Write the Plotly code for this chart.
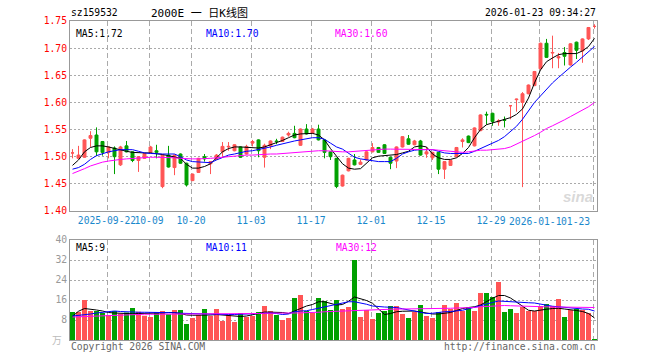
import plotly.graph_objects as go

# ---------------- data ----------------
dates = [
    "2025-09-12", "2025-09-15", "2025-09-16", "2025-09-17", "2025-09-18", "2025-09-19",
    "2025-09-22", "2025-09-23", "2025-09-24", "2025-09-25", "2025-09-26", "2025-09-29",
    "2025-09-30", "2025-10-09", "2025-10-10", "2025-10-13", "2025-10-14", "2025-10-15",
    "2025-10-16", "2025-10-17", "2025-10-20", "2025-10-21", "2025-10-22", "2025-10-23",
    "2025-10-24", "2025-10-27", "2025-10-28", "2025-10-29", "2025-10-30", "2025-10-31",
    "2025-11-03", "2025-11-04", "2025-11-05", "2025-11-06", "2025-11-07", "2025-11-10",
    "2025-11-11", "2025-11-12", "2025-11-13", "2025-11-14", "2025-11-17", "2025-11-18",
    "2025-11-19", "2025-11-20", "2025-11-21", "2025-11-24", "2025-11-25", "2025-11-26",
    "2025-11-27", "2025-11-28", "2025-12-01", "2025-12-02", "2025-12-03", "2025-12-04",
    "2025-12-05", "2025-12-08", "2025-12-09", "2025-12-10", "2025-12-11", "2025-12-12",
    "2025-12-15", "2025-12-16", "2025-12-17", "2025-12-18", "2025-12-19", "2025-12-22",
    "2025-12-23", "2025-12-24", "2025-12-25", "2025-12-26", "2025-12-29", "2025-12-30",
    "2025-12-31", "2026-01-05", "2026-01-06", "2026-01-07", "2026-01-08", "2026-01-09",
    "2026-01-12", "2026-01-13", "2026-01-14", "2026-01-15", "2026-01-16", "2026-01-19",
    "2026-01-20", "2026-01-21", "2026-01-22", "2026-01-23",
]

open_ = [1.507, 1.497, 1.499, 1.534, 1.540, 1.528, 1.508, 1.516, 1.485, 1.520,
         1.509, 1.493, 1.497, 1.508, 1.511, 1.445, 1.503, 1.480, 1.505, 1.488,
         1.456, 1.471, 1.500, 1.487, 1.495, 1.509, 1.518, 1.511, 1.518, 1.505,
         1.525, 1.531, 1.499, 1.520, 1.529, 1.528, 1.540, 1.543, 1.521, 1.551,
         1.543, 1.551, 1.531, 1.509, 1.497, 1.446, 1.474, 1.494, 1.486, 1.494,
         1.509, 1.517, 1.522, 1.499, 1.492, 1.518, 1.533, 1.522, 1.529, 1.505,
         1.498, 1.508, 1.477, 1.484, 1.500, 1.528, 1.538, 1.520, 1.548, 1.578,
         1.580, 1.564, 1.568, 1.594, 1.605, 1.600, 1.616, 1.631, 1.662, 1.709,
         1.691, 1.682, 1.692, 1.669, 1.711, 1.695, 1.717, 1.740]
high = [1.514, 1.520, 1.532, 1.547, 1.554, 1.529, 1.519, 1.519, 1.520, 1.529,
        1.510, 1.501, 1.507, 1.520, 1.522, 1.504, 1.520, 1.504, 1.506, 1.489,
        1.469, 1.498, 1.505, 1.492, 1.505, 1.527, 1.527, 1.523, 1.519, 1.522,
        1.531, 1.532, 1.524, 1.530, 1.533, 1.537, 1.546, 1.557, 1.552, 1.560,
        1.553, 1.559, 1.532, 1.510, 1.498, 1.467, 1.498, 1.505, 1.495, 1.510,
        1.525, 1.518, 1.523, 1.500, 1.519, 1.538, 1.540, 1.531, 1.531, 1.518,
        1.509, 1.509, 1.492, 1.494, 1.518, 1.534, 1.539, 1.554, 1.578, 1.583,
        1.581, 1.569, 1.574, 1.594, 1.607, 1.619, 1.633, 1.658, 1.710, 1.717,
        1.723, 1.691, 1.702, 1.709, 1.712, 1.718, 1.739, 1.744]
low = [1.497, 1.497, 1.498, 1.518, 1.501, 1.502, 1.497, 1.468, 1.483, 1.508,
       1.490, 1.472, 1.496, 1.507, 1.497, 1.442, 1.480, 1.466, 1.487, 1.445,
       1.455, 1.470, 1.491, 1.468, 1.494, 1.500, 1.511, 1.510, 1.498, 1.504,
       1.519, 1.499, 1.480, 1.514, 1.523, 1.527, 1.537, 1.534, 1.520, 1.541,
       1.542, 1.530, 1.497, 1.494, 1.442, 1.445, 1.473, 1.484, 1.485, 1.493,
       1.508, 1.507, 1.505, 1.477, 1.479, 1.517, 1.522, 1.521, 1.502, 1.498,
       1.494, 1.468, 1.459, 1.483, 1.499, 1.517, 1.525, 1.519, 1.547, 1.559,
       1.557, 1.557, 1.554, 1.569, 1.583, 1.444, 1.615, 1.630, 1.661, 1.682,
       1.663, 1.663, 1.668, 1.668, 1.680, 1.673, 1.715, 1.736]
close = [1.507, 1.503, 1.531, 1.539, 1.509, 1.508, 1.518, 1.500, 1.518, 1.509,
         1.493, 1.500, 1.506, 1.518, 1.508, 1.503, 1.481, 1.503, 1.488, 1.448,
         1.468, 1.497, 1.496, 1.491, 1.503, 1.519, 1.519, 1.522, 1.499, 1.519,
         1.528, 1.511, 1.521, 1.529, 1.528, 1.536, 1.543, 1.535, 1.551, 1.542,
         1.551, 1.531, 1.508, 1.500, 1.445, 1.466, 1.497, 1.485, 1.490, 1.509,
         1.517, 1.508, 1.506, 1.488, 1.518, 1.537, 1.523, 1.529, 1.503, 1.509,
         1.508, 1.477, 1.491, 1.493, 1.517, 1.531, 1.526, 1.553, 1.577, 1.577,
         1.565, 1.566, 1.567, 1.594, 1.606, 1.616, 1.632, 1.657, 1.709, 1.683,
         1.692, 1.684, 1.685, 1.708, 1.696, 1.717, 1.738, 1.740]

ma5 = [1.484, 1.494, 1.509, 1.517, 1.520, 1.520, 1.518, 1.515, 1.512, 1.510,
       1.508, 1.507, 1.507, 1.507, 1.506, 1.504, 1.502, 1.500, 1.497, 1.486,
       1.479, 1.479, 1.482, 1.487, 1.498, 1.509, 1.515, 1.518, 1.518, 1.517,
       1.516, 1.516, 1.518, 1.522, 1.525, 1.530, 1.535, 1.540, 1.542, 1.543,
       1.543, 1.540, 1.531, 1.515, 1.500, 1.487, 1.479, 1.477, 1.478, 1.488,
       1.498, 1.501, 1.502, 1.503, 1.504, 1.507, 1.510, 1.518, 1.520, 1.518,
       1.505, 1.498, 1.495, 1.495, 1.498, 1.506, 1.517, 1.535, 1.550, 1.559,
       1.562, 1.566, 1.569, 1.572, 1.578, 1.588, 1.608, 1.636, 1.660, 1.675,
       1.682, 1.688, 1.690, 1.690, 1.690, 1.695, 1.703, 1.718]
ma10 = [1.477, 1.480, 1.486, 1.495, 1.502, 1.506, 1.509, 1.511, 1.513, 1.513,
        1.513, 1.510, 1.507, 1.506, 1.505, 1.505, 1.505, 1.505, 1.500, 1.494,
        1.491, 1.490, 1.490, 1.489, 1.494, 1.499, 1.503, 1.505, 1.508, 1.510,
        1.511, 1.513, 1.516, 1.518, 1.521, 1.524, 1.527, 1.529, 1.531, 1.533,
        1.535, 1.535, 1.532, 1.525, 1.518, 1.514, 1.506, 1.499, 1.496, 1.494,
        1.492, 1.491, 1.491, 1.491, 1.497, 1.505, 1.509, 1.512, 1.513, 1.513,
        1.513, 1.510, 1.507, 1.506, 1.506, 1.506, 1.506, 1.510, 1.515, 1.520,
        1.525, 1.530, 1.537, 1.546, 1.556, 1.569, 1.585, 1.600, 1.612, 1.625,
        1.636, 1.646, 1.656, 1.665, 1.674, 1.684, 1.694, 1.703]
ma30 = [1.469, 1.473, 1.478, 1.483, 1.487, 1.490, 1.492, 1.494, 1.495, 1.496,
        1.497, 1.498, 1.499, 1.499, 1.499, 1.499, 1.499, 1.498, 1.497, 1.496,
        1.496, 1.496, 1.496, 1.497, 1.498, 1.499, 1.501, 1.502, 1.502, 1.503,
        1.503, 1.504, 1.504, 1.505, 1.505, 1.506, 1.507, 1.508, 1.509, 1.510,
        1.511, 1.511, 1.511, 1.510, 1.509, 1.509, 1.509, 1.510, 1.511, 1.512,
        1.513, 1.513, 1.514, 1.514, 1.514, 1.514, 1.514, 1.514, 1.514, 1.514,
        1.513, 1.512, 1.511, 1.510, 1.509, 1.508, 1.509, 1.511, 1.512, 1.512,
        1.513, 1.513, 1.515, 1.518, 1.523, 1.528, 1.533, 1.539, 1.545, 1.552,
        1.557, 1.562, 1.568, 1.574, 1.580, 1.586, 1.592, 1.600]

volume = [11.2, 11.2, 16.0, 11.6, 11.6, 10.8, 10.0, 11.6, 10.5, 11.0,
          12.8, 11.3, 9.7, 9.2, 11.2, 11.6, 10.3, 12.0, 12.0, 6.4,
          8.8, 10.0, 12.4, 9.6, 12.4, 7.6, 10.0, 7.2, 10.8, 9.2,
          9.6, 11.2, 13.6, 11.6, 10.0, 8.0, 8.8, 16.8, 18.0, 11.6,
          10.8, 16.8, 15.6, 12.0, 16.0, 12.4, 13.2, 32.0, 9.2, 12.0,
          8.4, 10.8, 11.6, 13.6, 13.6, 10.4, 8.8, 11.2, 14.0, 9.6,
          8.8, 11.2, 14.0, 12.4, 14.8, 11.6, 13.2, 11.6, 18.8, 18.8,
          17.2, 23.2, 11.2, 12.4, 10.8, 13.2, 11.6, 11.6, 13.6, 14.4,
          13.6, 16.4, 9.2, 12.0, 12.4, 12.0, 10.8, 0.4]
vol_ma5 = [9.5, 11.5, 12.6, 12.4, 12.0, 11.6, 11.0, 10.8, 10.6, 10.4,
           10.5, 10.6, 10.6, 10.6, 10.8, 10.8, 11.0, 11.0, 10.6, 10.0,
           9.9, 9.9, 9.8, 10.0, 10.2, 10.0, 9.8, 9.3, 9.4, 9.6,
           10.0, 10.6, 11.2, 11.2, 11.2, 11.0, 10.6, 11.6, 12.8, 13.6,
           14.2, 15.3, 15.3, 14.8, 14.0, 14.2, 15.5, 17.2, 16.6, 15.8,
           14.7, 12.5, 10.2, 10.6, 11.3, 11.5, 11.6, 11.6, 11.2, 10.7,
           10.4, 10.4, 10.6, 11.0, 11.8, 12.6, 13.0, 13.3, 14.0, 15.4,
           16.7, 17.8, 17.8, 16.8, 15.2, 13.8, 11.9, 11.6, 11.8, 12.3,
           12.6, 12.7, 12.4, 12.2, 11.8, 11.4, 10.6, 8.8]
vol_ma10 = [9.6, 9.8, 10.0, 10.4, 10.8, 11.1, 11.4, 11.6, 11.4, 11.2,
            11.1, 11.1, 11.1, 11.1, 11.0, 11.0, 10.9, 10.9, 10.7, 10.6,
            10.5, 10.5, 10.4, 10.4, 10.3, 10.2, 10.2, 10.2, 10.3, 10.5,
            10.6, 10.7, 10.9, 10.8, 10.6, 10.2, 10.4, 11.3, 11.6, 11.7,
            12.2, 12.7, 13.1, 13.5, 14.1, 14.7, 15.3, 15.3, 14.9, 14.3,
            13.6, 13.3, 13.2, 13.1, 13.0, 12.5, 12.0, 11.4, 10.9, 10.6,
            10.7, 11.1, 11.3, 11.4, 11.5, 11.9, 12.5, 13.2, 13.8, 14.3,
            15.0, 15.6, 15.4, 15.2, 15.1, 15.0, 14.9, 14.8, 14.3, 13.8,
            13.5, 13.3, 13.0, 12.8, 12.5, 12.4, 12.3, 11.6]
vol_ma30 = [9.2, 9.3, 9.4, 9.5, 9.7, 9.8, 10.0, 10.1, 10.2, 10.3,
            10.3, 10.3, 10.3, 10.3, 10.3, 10.3, 10.3, 10.3, 10.3, 10.3,
            10.3, 10.3, 10.3, 10.3, 10.4, 10.4, 10.4, 10.4, 10.4, 10.4,
            10.5, 10.6, 10.7, 10.8, 10.8, 10.8, 10.8, 10.8, 10.8, 10.9,
            11.0, 11.1, 11.3, 11.4, 11.6, 11.7, 11.8, 12.0, 12.1, 12.2,
            12.3, 12.3, 12.3, 12.4, 12.4, 12.4, 12.4, 12.5, 12.5, 12.6,
            12.6, 12.6, 12.7, 12.7, 12.8, 12.8, 12.9, 13.0, 13.3, 13.5,
            13.7, 13.9, 13.8, 13.7, 13.6, 13.5, 13.3, 13.2, 13.2, 13.2,
            13.2, 13.2, 13.2, 13.2, 13.1, 13.1, 13.0, 13.0]

price_ticks = [1.40, 1.45, 1.50, 1.55, 1.60, 1.65, 1.70, 1.75]
vol_ticks = [8, 16, 24, 32, 40]
tick_dates = ["2025-09-22", "2025-10-09", "2025-10-20", "2025-11-03", "2025-11-17",
              "2025-12-01", "2025-12-15", "2025-12-29", "2026-01-12", "2026-01-23"]
tick_labels = ["2025-09-22", "10-09", "10-20", "11-03", "11-17",
               "12-01", "12-15", "12-29", "", ""]
# the last two labels collide in the reference; they are drawn as notes
late_labels = ["2026-01-1", "01-23"]

title_code = "sz159532"
title_main = "2000E 一 日K线图"
timestamp = "2026-01-23 09:34:27"
ma_labels = ["MA5:1.72", "MA10:1.70", "MA30:1.60"]
vol_ma_labels = ["MA5:9", "MA10:11", "MA30:12"]

# ---------------- figure ----------------
W, H = 660, 360
RED = "#ff5555"
GREEN = "#00a000"
BLUE_T = "#1a88cc"
FS = 9.7
MONO = "DejaVu Sans Mono, Liberation Mono, monospace"
CJK = "DejaVu Sans Mono, Noto Sans CJK SC, monospace"

x = list(range(len(dates)))
tick_pos = [dates.index(d) - 0.25 for d in tick_dates]
vol_colors = [RED if c > o else GREEN for o, c in zip(open_, close)]

fig = go.Figure()
fig.add_trace(go.Candlestick(
    x=x, open=open_, high=high, low=low, close=close,
    increasing=dict(line=dict(color=RED, width=1), fillcolor=RED),
    decreasing=dict(line=dict(color=GREEN, width=1), fillcolor=GREEN),
    whiskerwidth=0, xaxis="x", yaxis="y", hoverinfo="skip",
))
for vals, col in [(ma5, "#000000"), (ma10, "#0000ff"), (ma30, "#ff00ff")]:
    fig.add_trace(go.Scatter(x=x, y=vals, mode="lines", line=dict(color=col, width=1),
                             xaxis="x", yaxis="y", hoverinfo="skip"))

fig.add_trace(go.Bar(x=x, y=volume, marker=dict(color=vol_colors, line=dict(width=0)),
                     width=0.83, xaxis="x2", yaxis="y2", hoverinfo="skip"))
for vals, col in [(vol_ma5, "#000000"), (vol_ma10, "#0000ff"), (vol_ma30, "#ff00ff")]:
    fig.add_trace(go.Scatter(x=x, y=vals, mode="lines", line=dict(color=col, width=1),
                             xaxis="x2", yaxis="y2", hoverinfo="skip"))

X0, X1 = 70, 597
xdom = [X0 / W, X1 / W]
xr = [-2.5 / 6, 87 + 2.5 / 6]

axis_common = dict(showline=True, linecolor="#999999", linewidth=1, mirror=True,
                   zeroline=False, fixedrange=True, automargin=False)

fig.update_layout(
    width=W, height=H, margin=dict(l=0, r=0, t=0, b=0),
    paper_bgcolor="white", plot_bgcolor="white", showlegend=False,
    boxgap=0.3,
    xaxis=dict(domain=xdom, range=xr, tickvals=tick_pos, ticktext=tick_labels,
               tickangle=0,
               tickfont=dict(family=MONO, size=FS, color=BLUE_T),
               showgrid=True, gridcolor="#aaaaaa", griddash="5px,3px", gridwidth=1,
               ticks="", rangeslider=dict(visible=False), anchor="y", **axis_common),
    yaxis=dict(domain=[(H - 211) / H, (H - 21) / H], range=[1.40, 1.75],
               tickvals=price_ticks, ticktext=[f"{v:.2f}" for v in price_ticks],
               tickfont=dict(family=MONO, size=FS, color="#ff0000"),
               showgrid=True, gridcolor="#aaaaaa", griddash="2px,2px", ticks="",
               anchor="x", **axis_common),
    xaxis2=dict(domain=xdom, range=xr, tickvals=tick_pos, showticklabels=False,
                showgrid=True, gridcolor="#aaaaaa", griddash="5px,3px", ticks="",
                anchor="y2", **axis_common),
    yaxis2=dict(domain=[(H - 340) / H, (H - 240) / H], range=[0, 40],
                tickvals=vol_ticks, ticktext=[str(v) for v in vol_ticks],
                tickfont=dict(family=MONO, size=FS, color="#999999"),
                showgrid=True, gridcolor="#aaaaaa", griddash="2px,2px", ticks="",
                anchor="x2", **axis_common),
)


def txt(s, xpx, ypx, anchor="left", color="#000000", size=FS, family=MONO, **kw):
    fig.add_annotation(text=s, x=xpx / W, y=(H - ypx) / H, xref="paper", yref="paper",
                       xanchor=anchor, yanchor="middle", showarrow=False,
                       font=dict(family=family, size=size, color=color), **kw)


txt(title_code, 69, 13)
txt(title_main, 149, 13, size=11, family=CJK)
txt(timestamp, 598, 13, anchor="right")
for s, xp, col in zip(ma_labels, [74, 204, 333], ["#000000", "#0000ff", "#ff00ff"]):
    txt(s, xp, 33, color=col)
for s, xp, col in zip(vol_ma_labels, [74, 204, 334], ["#000000", "#0000ff", "#ff00ff"]):
    txt(s, xp, 247, color=col)
txt(late_labels[0], 507, 221, color=BLUE_T)
txt(late_labels[1], 592, 221, anchor="right", color=BLUE_T)
txt("万", 64, 340, anchor="right", color="#bbbbbb", family=CJK)
txt("Copyright 2026 SINA.COM", 69, 346, color="#666666")
txt("http://finance.sina.com.cn", 598, 346, anchor="right", color="#666666")
txt("<b><i>sina</i></b>", 595, 196, anchor="right", color="rgba(200,200,200,0.7)", size=15,
    family="Liberation Sans, sans-serif")

fig.write_html("out.html", config={"displayModeBar": False},
               post_script="document.body.style.margin='0';")
